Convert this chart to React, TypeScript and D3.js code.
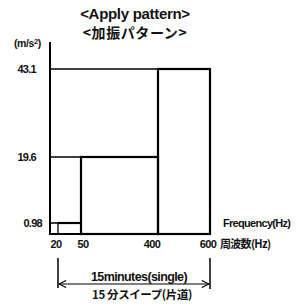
import React from 'react';
import * as d3 from 'd3';

// sweep steps: frequency band [from, to] and acceleration level (m/s²)
const bandFrom = [20, 50, 400];
const bandTo = [50, 400, 600];
const levels = [0.98, 19.6, 43.1];
const freqTicks = [20, 50, 400, 600];
const levelTicks = ['0.98', '19.6', '43.1'];

const W = 302;
const H = 306;
const font = '"Liberation Sans", Arial, sans-serif';
const jp = '"Noto Sans CJK JP", sans-serif';

export default function App() {
  // the drawing is not to scale, so both axes are piecewise scales
  const x = d3.scaleLinear().domain(freqTicks).range([58, 81, 158, 210]);
  const y = d3.scaleLinear().domain([0, ...levels]).range([234, 223, 157, 69]);
  const x0 = 50;
  const y0 = y(0);
  const xEnd = x(600);
  const tickShift: Record<number, number> = { 20: -2, 50: 2, 400: -6, 600: -2 };

  const arrowY = 284;

  return (
    <svg width={W} height={H} style={{ position: 'absolute', left: 0, top: 0, background: '#fff' }}>
      <defs>
        <marker id="ah" viewBox="0 0 10 10" refX="10" refY="5" markerWidth="8" markerHeight="6" orient="auto-start-reverse">
          <path d="M0,0 L10,5 L0,10" fill="none" stroke="#000" strokeWidth="1.5" />
        </marker>
      </defs>

      {/* title */}
      <g textAnchor="middle" fill="#111">
        <text x={135} y={19} fontSize={15} fontFamily={font} fontWeight={700} letterSpacing={-0.3}>&lt;Apply pattern&gt;</text>
        <text x={135} y={38} fontSize={14} fontFamily={jp} fontWeight={700} letterSpacing={0.6}>
          &lt;加振パターン&gt;
        </text>
      </g>

      {/* unit */}
      <text x={14} y={47} fontFamily={font} fontSize={10.5} fontWeight={700} letterSpacing={-0.4} fill="#111">
        (m/s
        <tspan fontSize={7.5} dy={-3}>2</tspan>
        <tspan dy={3}>)</tspan>
      </text>

      {/* guide lines from the axis to each level */}
      {levels.map((v, i) => (
        <line key={'g' + i} x1={x0} x2={x(bandFrom[i])} y1={y(v)} y2={y(v)} stroke="#000" strokeWidth={1.5} />
      ))}

      {/* step bars */}
      {levels.map((v, i) => (
        <rect
          key={'b' + i}
          x={x(bandFrom[i])}
          y={y(v)}
          width={x(bandTo[i]) - x(bandFrom[i])}
          height={y0 - y(v)}
          fill="none"
          stroke="#000"
          strokeWidth={i === 0 ? 1.3 : 2.2}
        />
      ))}
      <line x1={x(20)} x2={x(50)} y1={y(0.98)} y2={y(0.98)} stroke="#000" strokeWidth={2.2} />

      {/* axes */}
      <line x1={x0} x2={x0} y1={42} y2={y0 + 1} stroke="#000" strokeWidth={2} />
      <line x1={x0 - 1} x2={xEnd} y1={y0} y2={y0} stroke="#000" strokeWidth={2} />

      {/* y labels */}
      <g fontFamily={font} fontSize={11} fontWeight={700} letterSpacing={-0.7} textAnchor="end" fill="#111">
        {levelTicks.map((t, i) => (
          <text key={t} x={i === 0 ? 42 : 36} y={y(levels[i]) + 4}>{t}</text>
        ))}
      </g>

      {/* x labels */}
      <g fontFamily={font} fontSize={11} fontWeight={700} letterSpacing={-0.7} textAnchor="middle" fill="#111">
        {freqTicks.map(f => (
          <text key={f} x={x(f) + tickShift[f]} y={y0 + 14}>{f}</text>
        ))}
      </g>
      <text x={xEnd + 10} y={y0 + 14} fontFamily={jp} fontSize={11} fontWeight={700} letterSpacing={-0.7} fill="#111">
        周波数(Hz)
      </text>
      <text x={xEnd + 13} y={y(0.98) + 4} fontFamily={font} fontSize={11} fontWeight={700} letterSpacing={-0.7} fill="#111">
        Frequency(Hz)
      </text>

      {/* sweep duration */}
      <line x1={x(20)} x2={x(20)} y1={258} y2={288} stroke="#000" strokeWidth={1.5} />
      <line x1={xEnd} x2={xEnd} y1={258} y2={289} stroke="#000" strokeWidth={1.5} />
      <line
        x1={x(20) + 1}
        x2={xEnd - 1}
        y1={arrowY}
        y2={arrowY}
        stroke="#000"
        strokeWidth={1.2}
        markerStart="url(#ah)"
        markerEnd="url(#ah)"
      />
      <text x={139} y={281} textAnchor="middle" fontFamily={font} fontSize={12.5} fontWeight={700} letterSpacing={-0.6} fill="#111">
        15minutes(single)
      </text>
      <text x={142} y={299} textAnchor="middle" fontFamily={jp} fontSize={11.5} fontWeight={700} letterSpacing={-0.4} fill="#111">
        15 分スイープ(片道)
      </text>
    </svg>
  );
}
